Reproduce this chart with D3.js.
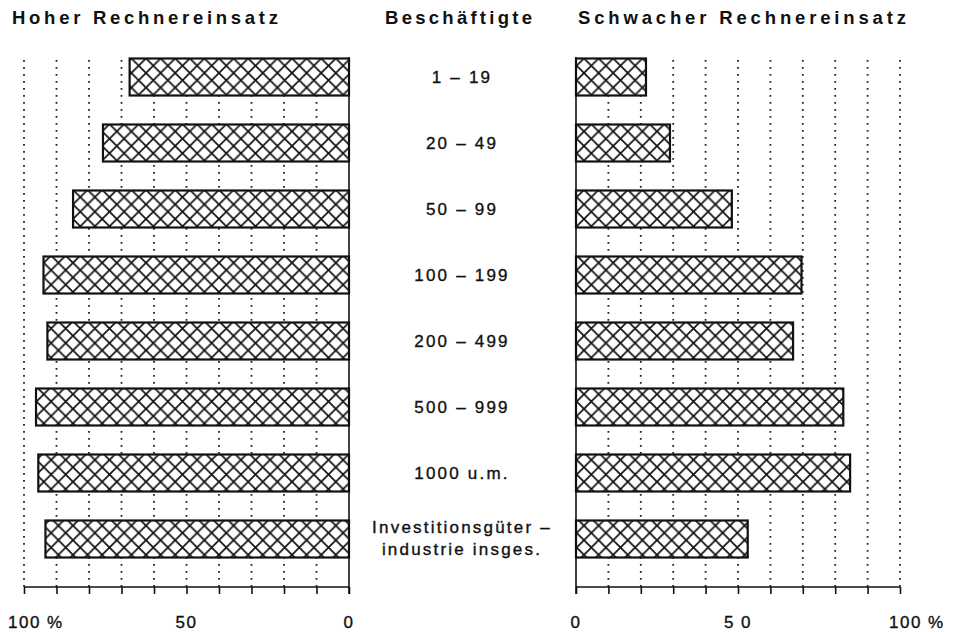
<!DOCTYPE html>
<html>
<head>
<meta charset="utf-8">
<script src="https://cdn.jsdelivr.net/npm/d3@7"></script>
<style>
  html, body { margin: 0; padding: 0; background: #fff; }
  svg { display: block; }
</style>
</head>
<body>
<svg id="chart" width="954" height="632"></svg>
<script>
// ---- data ----
const categories = ["1 – 19", "20 – 49", "50 – 99", "100 – 199", "200 – 499", "500 – 999", "1000 u.m.", "Investitionsgüter –\nindustrie insges."];
const hoherValues = [67.5, 75.7, 84.9, 94.0, 92.8, 96.3, 95.6, 93.4];
const schwacherValues = [21.6, 29.0, 48.1, 69.6, 67.0, 82.5, 84.6, 53.0];
const leftTitle = "Hoher Rechnereinsatz";
const midTitle = "Beschäftigte";
const rightTitle = "Schwacher Rechnereinsatz";
const tickValues = [0, 10, 20, 30, 40, 50, 60, 70, 80, 90, 100];
const leftTickLabels = [{v: 100, t: "100 %"}, {v: 50, t: "50"}, {v: 0, t: "0"}];
const rightTickLabels = [{v: 0, t: "0"}, {v: 50, t: "5 0"}, {v: 100, t: "100 %"}];

const svg = d3.select("#chart");
const font = "'Liberation Sans', Arial, Helvetica, sans-serif";

const xL = d3.scaleLinear().domain([0, 100]).range([349, 24]);
const xR = d3.scaleLinear().domain([0, 100]).range([576, 900]);
const y = d3.scalePoint().domain(categories).range([77, 539]);
const barH = 37;
const axisY = 587;
const gridTop = 60;

// hatch pattern
const defs = svg.append("defs");
const w = 14.6;
const pat = defs.append("pattern").attr("id", "hatch")
  .attr("patternUnits", "userSpaceOnUse").attr("width", w).attr("height", w);
pat.append("rect").attr("width", w).attr("height", w).attr("fill", "#fff");
pat.append("path").attr("d", `M-1,-1L${w+1},${w+1}M${w+1},-1L-1,${w+1}`)
  .attr("stroke", "#111").attr("stroke-width", 1.7).attr("fill", "none");

// gridlines
function grid(x) {
  svg.append("g").selectAll("line").data(tickValues.filter(v => v > 0)).join("line")
    .attr("x1", d => x(d)).attr("x2", d => x(d))
    .attr("y1", gridTop).attr("y2", axisY)
    .attr("stroke", "#222").attr("stroke-width", 1.8)
    .attr("stroke-dasharray", "1.8,5.2");
}
grid(xL); grid(xR);

// bars
svg.append("g").selectAll("rect").data(categories).join("rect")
  .attr("x", (d, i) => xL(hoherValues[i]))
  .attr("width", (d, i) => xL(0) - xL(hoherValues[i]))
  .attr("y", d => y(d) - barH / 2).attr("height", barH)
  .attr("fill", "url(#hatch)").attr("stroke", "#111").attr("stroke-width", 2.2);
svg.append("g").selectAll("rect").data(categories).join("rect")
  .attr("x", xR(0))
  .attr("width", (d, i) => xR(schwacherValues[i]) - xR(0))
  .attr("y", d => y(d) - barH / 2).attr("height", barH)
  .attr("fill", "url(#hatch)").attr("stroke", "#111").attr("stroke-width", 2.2);

// axes
function drawAxis(x) {
  const ax = d3.axisBottom(x).tickValues(tickValues).tickSize(7).tickFormat("");
  const g = svg.append("g").attr("transform", `translate(0,${axisY})`).call(ax);
  g.select(".domain").attr("stroke", "#111").attr("stroke-width", 1.6).attr("d", `M${x(0)},0H${x(100)}`);
  g.selectAll(".tick line").attr("stroke", "#111").attr("stroke-width", 1.6);
}
drawAxis(xL); drawAxis(xR);

// vertical zero lines
[xL, xR].forEach(x => {
  svg.append("line").attr("x1", x(0)).attr("x2", x(0)).attr("y1", 57).attr("y2", axisY + 7)
    .attr("stroke", "#111").attr("stroke-width", 1.6);
});

// tick labels
function tickLabels(data, x, startX) {
  svg.append("g").selectAll("text").data(data).join("text")
    .attr("x", d => d.v === 100 ? startX : x(d.v))
    .attr("y", 628)
    .attr("text-anchor", d => d.v === 100 ? "start" : "middle")
    .attr("font-family", font).attr("font-size", 17).attr("letter-spacing", 1.5)
    .attr("fill", "#111").attr("stroke", "#111").attr("stroke-width", 0.35)
    .text(d => d.t);
}
tickLabels(leftTickLabels, xL, 8);
tickLabels(rightTickLabels, xR, 889);

// category labels
const lab = svg.append("g").selectAll("text").data(categories).join("text")
  .attr("font-family", font).attr("font-size", 17).attr("letter-spacing", 2.2)
  .attr("fill", "#111").attr("stroke", "#111").attr("stroke-width", 0.35)
  .attr("text-anchor", "middle");
lab.each(function(d) {
  const lines = d.split("\n");
  const t = d3.select(this);
  const c = y(d);
  if (lines.length === 1) {
    t.append("tspan").attr("x", 462).attr("y", c + 6).text(lines[0]);
  } else {
    t.append("tspan").attr("x", 462).attr("y", c - 6).text(lines[0]);
    t.append("tspan").attr("x", 462).attr("y", c + 16).text(lines[1]);
  }
});

// titles
function title(txt, x, len) {
  svg.append("text").attr("x", x).attr("y", 24)
    .attr("font-family", font).attr("font-weight", "bold").attr("font-size", 18.5)
    .attr("fill", "#111")
    .attr("textLength", len).attr("lengthAdjust", "spacing")
    .text(txt);
}
title(leftTitle, 12, 266);
title(midTitle, 385, 147);
title(rightTitle, 578, 328);
</script>
</body>
</html>
